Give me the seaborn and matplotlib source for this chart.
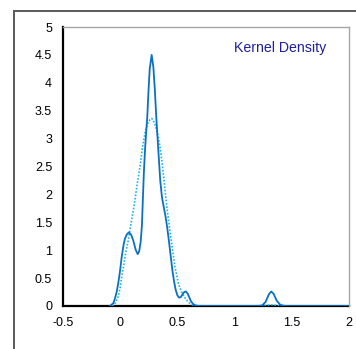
import matplotlib
matplotlib.use("Agg")
import matplotlib.pyplot as plt
import seaborn as sns
from matplotlib.patches import Rectangle

# ---- data ----
solid_x = [-0.09, -0.06, -0.045, -0.03, -0.017, 0.0, 0.013, 0.03, 0.042, 0.06,
           0.077, 0.095, 0.115, 0.135, 0.153, 0.166, 0.179, 0.19, 0.197, 0.207,
           0.217, 0.227, 0.237, 0.246, 0.258, 0.275, 0.29, 0.302, 0.315, 0.333,
           0.35, 0.365, 0.38, 0.395, 0.41, 0.425, 0.44, 0.455, 0.47, 0.485,
           0.5, 0.515, 0.53, 0.545, 0.56, 0.575, 0.59, 0.605, 0.62, 0.64,
           0.66, 0.69, 1.20, 1.24, 1.27, 1.30, 1.32, 1.34, 1.37, 1.40, 1.44, 2.0]
solid_y = [0.0, 0.05, 0.14, 0.26, 0.41, 0.65, 0.88, 1.10, 1.21, 1.29,
           1.32, 1.28, 1.17, 1.01, 0.93, 0.98, 1.15, 1.45, 1.85, 2.40,
           2.80, 3.12, 3.40, 3.80, 4.25, 4.50, 4.28, 3.90, 3.40, 2.80,
           2.25, 1.95, 1.78, 1.62, 1.42, 1.18, 0.92, 0.66, 0.45, 0.29,
           0.19, 0.15, 0.16, 0.21, 0.25, 0.26, 0.22, 0.15, 0.08, 0.03,
           0.01, 0.0, 0.0, 0.01, 0.07, 0.21, 0.26, 0.22, 0.09, 0.02, 0.0, 0.0]

dot_x = [-0.07, -0.04, -0.017, 0.0, 0.013, 0.03, 0.042, 0.055, 0.071, 0.085,
         0.1, 0.115, 0.129, 0.15, 0.173, 0.195, 0.217, 0.24, 0.26, 0.275,
         0.289, 0.31, 0.333, 0.348, 0.363, 0.378, 0.392, 0.406, 0.42, 0.435,
         0.45, 0.465, 0.479, 0.494, 0.508, 0.53, 0.552, 0.575, 0.595, 0.62,
         0.65, 1.22, 1.28, 1.32, 1.36, 1.42]
dot_y = [0.0, 0.06, 0.17, 0.33, 0.53, 0.72, 0.88, 1.03, 1.18, 1.36,
         1.54, 1.72, 1.90, 2.20, 2.50, 2.85, 3.10, 3.27, 3.34, 3.36,
         3.33, 3.22, 3.02, 2.85, 2.62, 2.35, 2.08, 1.80, 1.58, 1.34,
         1.12, 0.90, 0.70, 0.55, 0.41, 0.28, 0.19, 0.12, 0.07, 0.03,
         0.0, 0.0, 0.015, 0.02, 0.015, 0.0]

x_ticks = [-0.5, 0, 0.5, 1, 1.5, 2]
x_labels = ["-0.5", "0", "0.5", "1", "1.5", "2"]
y_ticks = [0, 0.5, 1, 1.5, 2, 2.5, 3, 3.5, 4, 4.5, 5]
y_labels = ["0", "0.5", "1", "1.5", "2", "2.5", "3", "3.5", "4", "4.5", "5"]
title_text = "Kernel Density"

# ---- styling ----
sns.set_style("white")
plt.rcParams["font.family"] = ["Liberation Sans", "DejaVu Sans"]

W, H = 356, 349
fig = plt.figure(figsize=(W / 100, H / 100), dpi=100)
fig.patch.set_facecolor("white")

# outer chart border (left and top visible)
fig.patches.append(Rectangle((14 / W, -0.05), 1.2, 1.05 - 10.5 / H,
                             transform=fig.transFigure, fill=False,
                             edgecolor="#595959", linewidth=1.4, zorder=0))

ax = fig.add_axes([63 / W, 1 - 306 / H, (349 - 63) / W, (306 - 27) / H])
ax.set_facecolor("white")

sns.lineplot(x=dot_x, y=dot_y, ax=ax, color="#1CB5F0", linewidth=1.2,
             linestyle=(0, (1, 1)), estimator=None, sort=False, zorder=3)
sns.lineplot(x=solid_x, y=solid_y, ax=ax, color="#0A70C4", linewidth=1.3,
             estimator=None, sort=False, zorder=4)

ax.set_xlim(-0.5, 2)
ax.set_ylim(0, 5)
ax.set_xticks(x_ticks)
ax.set_xticklabels(x_labels)
ax.set_yticks(y_ticks)
ax.set_yticklabels(y_labels)
ax.tick_params(axis="both", which="major", direction="out", length=3.3,
               width=1.0, color="black", labelsize=9, labelcolor="black")
ax.tick_params(axis="y", pad=4.5)
ax.tick_params(axis="x", pad=4.5)
ax.set_xlabel("")
ax.set_ylabel("")

for s in ["left", "bottom"]:
    ax.spines[s].set_color("black")
    ax.spines[s].set_linewidth(1.6)
    ax.spines[s].set_zorder(2)
for s in ["top", "right"]:
    ax.spines[s].set_color("#A6A6A6")
    ax.spines[s].set_linewidth(1.0)

ax.text(0.92, 0.925, title_text, transform=ax.transAxes, ha="right", va="center",
        fontsize=10.2, color="#1F1F9A")

fig.savefig("out.png", dpi=100, facecolor="white")
